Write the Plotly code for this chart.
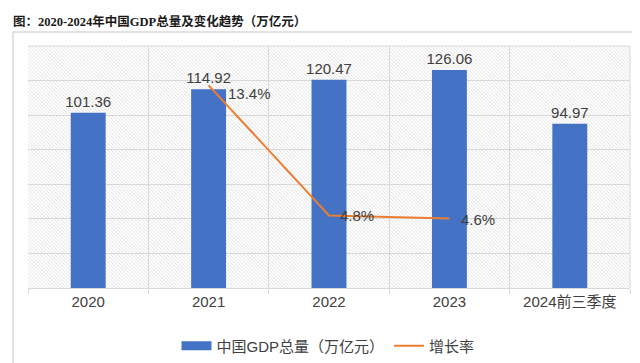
import base64
import plotly.graph_objects as go

categories = ["2020", "2021", "2022", "2023", "2024前三季度"]
gdp_values = [101.36, 114.92, 120.47, 126.06, 94.97]
growth_categories = ["2021", "2022", "2023"]
growth_values = [13.4, 4.8, 4.6]
growth_labels = ["13.4%", "4.8%", "4.6%"]

BLUE = "#4472C4"
ORANGE = "#ED7D31"
TXT = "#404040"
GRID = "#d9d9d9"

svg = (
    '<svg xmlns="http://www.w3.org/2000/svg" width="602" height="242" preserveAspectRatio="none">'
    '<defs><pattern id="p" patternUnits="userSpaceOnUse" width="3.5" height="3.5">'
    '<path d="M-1,-1 L4.5,4.5 M-1,2.5 L1,4.5 M2.5,-1 L4.5,1" stroke="#d8d8d8" stroke-width="0.8"/>'
    '</pattern></defs>'
    '<rect width="602" height="242" fill="white"/>'
    '<rect width="602" height="242" fill="url(#p)"/></svg>'
)
svg_uri = "data:image/svg+xml;base64," + base64.b64encode(svg.encode()).decode()

fig = go.Figure()
fig.add_trace(go.Bar(
    x=categories, y=gdp_values, name="中国GDP总量（万亿元）", showlegend=False,
    marker=dict(color=BLUE, line=dict(width=0)), width=0.29,
    text=[f"{v:.2f}" for v in gdp_values], textposition="outside",
    constraintext="none",
    textfont=dict(size=15, color=TXT), cliponaxis=False,
))
# legend entry drawn as a wide blue rectangle, like the reference
fig.add_trace(go.Scatter(
    x=[None], y=[None], name="中国GDP总量（万亿元）", mode="lines",
    line=dict(color=BLUE, width=9), hoverinfo="skip",
))
fig.add_trace(go.Scatter(
    x=growth_categories, y=growth_values, name="增长率", yaxis="y2",
    mode="lines", line=dict(color=ORANGE, width=2),
))

# growth-rate data labels, placed just right of each point
label_xshift = [17, 9, 10]
label_yshift = [-8, 0, -1]
annotations = [
    dict(x=categories.index(c), y=v, xref="x", yref="y2", text=t, showarrow=False,
         xanchor="left", yanchor="middle", xshift=dx, yshift=dy,
         font=dict(size=15, color=TXT))
    for c, v, t, dx, dy in zip(growth_categories, growth_values, growth_labels,
                               label_xshift, label_yshift)
]

fig.update_layout(
    width=640, height=363,
    margin=dict(l=20, r=18, t=38, b=83, autoexpand=False),
    paper_bgcolor="white", plot_bgcolor="rgba(0,0,0,0)",
    font=dict(family="Liberation Sans, Arial, Noto Sans CJK SC", color=TXT, size=14),
    bargap=0.71,
    showlegend=True,
    title=dict(
        text="<b>图：2020-2024年中国GDP总量及变化趋势（万亿元）</b>",
        xref="container", yref="container", x=0.008, y=1 - 14 / 363,
        xanchor="left", yanchor="middle",
        font=dict(family="Liberation Serif, Times New Roman, Noto Sans CJK SC", size=12.5, color="#1a1a1a"),
    ),
    legend=dict(orientation="h", x=0.5, xanchor="center", xref="container",
                y=1 - 338 / 363, yanchor="middle", yref="container",
                font=dict(size=15, color=TXT), itemwidth=30, traceorder="normal"),
    xaxis=dict(
        type="category", categoryorder="array", categoryarray=categories,
        range=[-0.5, len(categories) - 0.5],
        tickson="boundaries", ticks="outside", ticklen=5, tickcolor=GRID,
        showgrid=True, gridcolor=GRID, gridwidth=1,
        showline=True, linecolor=GRID, linewidth=1,
        tickfont=dict(size=15, color=TXT),
    ),
    yaxis=dict(range=[0, 140], dtick=20, showgrid=True, gridcolor=GRID, gridwidth=1,
               showticklabels=False, zeroline=False, showline=False),
    yaxis2=dict(range=[0, 16], overlaying="y", side="right", showgrid=False,
                showticklabels=False, zeroline=False, showline=False),
    images=[dict(source=svg_uri, xref="paper", yref="paper", x=0, y=1,
                 sizex=1, sizey=1, sizing="stretch", layer="below",
                 xanchor="left", yanchor="top")],
    shapes=[
        dict(type="rect", xref="paper", yref="paper", x0=-0.025, x1=1.015,
             y0=-0.322, y1=1.058, line=dict(color="#d9d9d9", width=1.5), layer="below"),
        dict(type="line", xref="paper", yref="paper", x0=0, x1=1, y0=1, y1=1,
             line=dict(color=GRID, width=1)),
        dict(type="line", xref="paper", yref="paper", x0=1, x1=1, y0=0, y1=1,
             line=dict(color=GRID, width=1)),
    ],
    annotations=annotations,
)

fig.write_html("out.html")
